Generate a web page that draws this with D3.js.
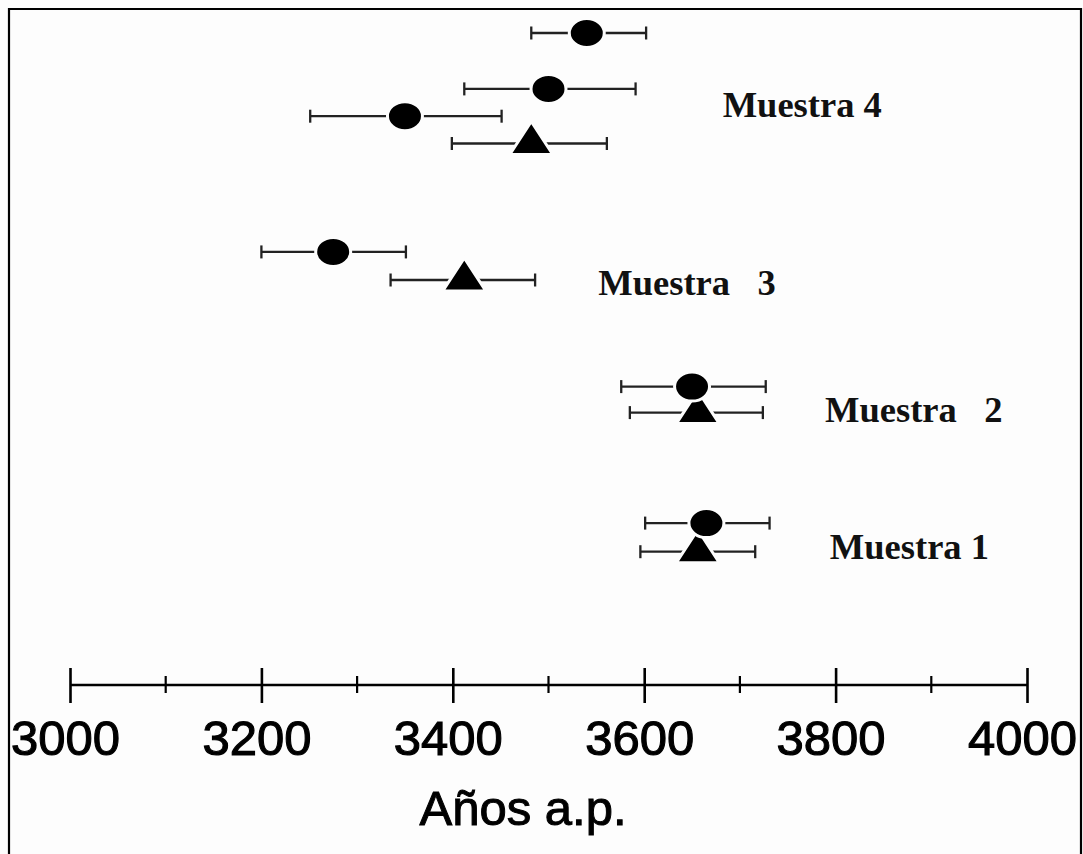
<!DOCTYPE html>
<html>
<head>
<meta charset="utf-8">
<script src="https://cdn.jsdelivr.net/npm/d3@7/dist/d3.min.js"></script>
<style>
  html, body { margin: 0; padding: 0; background: #fdfdfd; }
  svg { display: block; }
</style>
</head>
<body>
<svg id="chart" width="1083" height="854"></svg>
<script>
// ---- Data (years before present) ----
const sampleNames = ["Muestra 4", "Muestra   3", "Muestra   2", "Muestra 1"];
// one entry per measurement
const pointSample = [0, 0, 0, 0, 1, 1, 2, 2, 3, 3];
const pointMarker = ["circle", "circle", "circle", "triangle", "circle", "triangle", "circle", "triangle", "circle", "triangle"];
const pointValue  = [3540, 3500, 3350, 3482, 3275, 3412, 3650, 3656, 3665, 3656];
const pointLow    = [3482, 3412, 3251, 3399, 3200, 3335, 3576, 3585, 3601, 3596];
const pointHigh   = [3602, 3591, 3451, 3561, 3351, 3486, 3727, 3724, 3731, 3716];
// vertical slot of each measurement (row units)
const pointSlot   = [0, 2.15, 3.2, 4.25, 8.42, 9.5, 13.6, 14.6, 18.85, 19.95];
// sample label anchors (year, slot of baseline)
const labelYear = [3682, 3552, 3789, 3794];
const labelSlot = [3.23, 10.08, 14.96, 20.23];
// axis
const majorTicks = [3000, 3200, 3400, 3600, 3800, 4000];
const minorTicks = [3100, 3300, 3500, 3700, 3900];
const axisTitle = "Años a.p.";

// ---- Build ----
const svg = d3.select("#chart");
const x = d3.scaleLinear().domain([3000, 4000]).range([70, 1027]);
const y = d3.scaleLinear().domain([0, 20]).range([33, 553]);

// frame
const frame = svg.append("g").attr("stroke", "#000").attr("stroke-width", 2.2).attr("fill", "none");
frame.append("path").attr("d", "M9,854 L9,9 L1081,9 L1081,854");

const points = pointValue.map((v, i) => ({
  v, lo: pointLow[i], hi: pointHigh[i], slot: pointSlot[i], marker: pointMarker[i], sample: pointSample[i]
}));

// error bars
const eb = svg.append("g").attr("stroke", "#222").attr("stroke-width", 2.3);
eb.selectAll("line.bar").data(points).join("line").attr("class", "bar")
  .attr("x1", d => x(d.lo)).attr("x2", d => x(d.hi))
  .attr("y1", d => y(d.slot)).attr("y2", d => y(d.slot));
eb.selectAll("line.capl").data(points).join("line").attr("class", "capl")
  .attr("x1", d => x(d.lo)).attr("x2", d => x(d.lo))
  .attr("y1", d => y(d.slot) - 6.5).attr("y2", d => y(d.slot) + 6.5);
eb.selectAll("line.caph").data(points).join("line").attr("class", "caph")
  .attr("x1", d => x(d.hi)).attr("x2", d => x(d.hi))
  .attr("y1", d => y(d.slot) - 6.5).attr("y2", d => y(d.slot) + 6.5);

// triangles first, circles on top
const triW = 43, triH = 33;
const triPath = `M0,${-2 * triH / 3} L${triW / 2},${triH / 3} L${-triW / 2},${triH / 3} Z`;
svg.append("g").selectAll("path").data(points.filter(d => d.marker === "triangle")).join("path")
  .attr("d", triPath)
  .attr("transform", d => `translate(${x(d.v)},${y(d.slot)})`)
  .attr("fill", "#000").attr("stroke", "#fdfdfd").attr("stroke-width", 3);
svg.append("g").selectAll("ellipse").data(points.filter(d => d.marker === "circle")).join("ellipse")
  .attr("cx", d => x(d.v)).attr("cy", d => y(d.slot))
  .attr("rx", 17.5).attr("ry", 14.5)
  .attr("fill", "#000").attr("stroke", "#fdfdfd").attr("stroke-width", 3);

// sample labels
svg.append("g").selectAll("text").data(sampleNames).join("text")
  .attr("x", (d, i) => x(labelYear[i])).attr("y", (d, i) => y(labelSlot[i]))
  .attr("font-family", "'Liberation Serif', 'Times New Roman', serif")
  .attr("font-weight", "bold").attr("font-size", 36.5)
  .style("white-space", "pre")
  .attr("fill", "#111")
  .text(d => d);

// axis
const axisY = 685;
const gAxis = svg.append("g").attr("transform", `translate(0,${axisY})`)
  .call(d3.axisBottom(x).tickValues(majorTicks).tickSizeOuter(0).tickSizeInner(18).tickFormat(d3.format("d")));
gAxis.select(".domain").attr("stroke", "#000").attr("stroke-width", 2.6)
  .attr("d", `M${x(3000)},0H${x(4000)}`);
gAxis.selectAll(".tick line").attr("y1", -17).attr("y2", 18).attr("stroke", "#000").attr("stroke-width", 2.6);
gAxis.selectAll(".tick text")
  .attr("y", 70).attr("dy", 0).attr("dx", -5)
  .attr("font-family", "'Liberation Sans', Arial, sans-serif")
  .attr("font-size", 49).attr("fill", "#000")
  .attr("stroke", "#000").attr("stroke-width", 1.1);
gAxis.append("g").selectAll("line").data(minorTicks).join("line")
  .attr("x1", d => x(d)).attr("x2", d => x(d))
  .attr("y1", -9).attr("y2", 8)
  .attr("stroke", "#000").attr("stroke-width", 2.2);

svg.append("text")
  .attr("x", 523).attr("y", 825)
  .attr("text-anchor", "middle")
  .attr("font-family", "'Liberation Sans', Arial, sans-serif")
  .attr("font-size", 49).attr("fill", "#000")
  .attr("stroke", "#000").attr("stroke-width", 1)
  .text(axisTitle);
</script>
</body>
</html>
